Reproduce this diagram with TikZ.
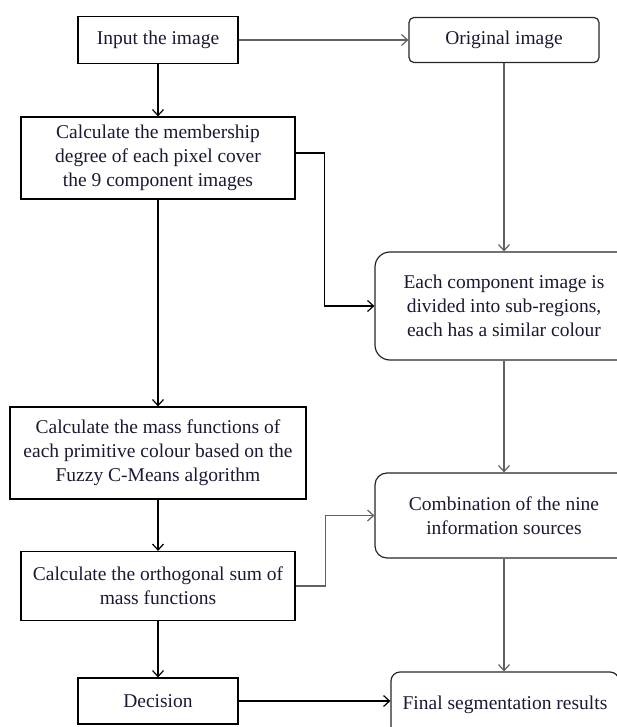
\documentclass[tikz,border=0pt]{standalone}
\usepackage{fontspec}
\setmainfont{Liberation Serif}
\usetikzlibrary{arrows.meta,calc,positioning}
\definecolor{linegray}{rgb}{0.38,0.38,0.38}
\definecolor{textnavy}{rgb}{0.10,0.10,0.20}
\tikzset{
  procbox/.style={
    draw=black,
    line width=1.2pt,
    align=center,
    inner sep=0pt,
    text=textnavy,
    font=\fontsize{19.5}{24}\selectfont
  },
  roundbox/.style={
    procbox,
    draw=black!85,
    rounded corners=8pt
  },
  arrow/.style={
    -{Straight Barb[length=6pt,width=11pt]},
    line width=1.2pt,
    black
  },
  grayarrow/.style={
    arrow,
    linegray
  }
}

\begin{document}
\begin{tikzpicture}[x=1pt,y=-1pt]
\useasboundingbox (0,0) rectangle (616,727);
% left column
\node[procbox, minimum width=160pt, minimum height=47pt] (input) at (158,40) {Input the image};
\node[procbox, minimum width=274pt, minimum height=82pt] (member) at (158,158) {Calculate the membership\\degree of each pixel cover\\the 9 component images};
\node[procbox, minimum width=296pt, minimum height=92pt] (mass) at (158,453) {Calculate the mass functions of\\each primitive colour based on the\\Fuzzy C-Means algorithm};
\node[procbox, minimum width=274pt, minimum height=69pt] (orth) at (158,586) {Calculate the orthogonal sum of\\mass functions};
\node[procbox, minimum width=160pt, minimum height=46pt] (decision) at (158,701) {Decision};
% right column
\node[roundbox, rounded corners=5pt, minimum width=190pt, minimum height=45pt] (orig) at (504,40) {Original image};
\node[roundbox, rounded corners=15pt, minimum width=258pt, minimum height=108pt] (comp) at (504,306) {Each component image is\\divided into sub-regions,\\each has a similar colour};
\node[roundbox, rounded corners=12pt, minimum width=258pt, minimum height=85pt] (comb) at (504,515.5) {Combination of the nine\\information sources};
\node[roundbox, rounded corners=9pt, minimum width=228pt, minimum height=66pt] (final) at (505,705) {Final segmentation results};
% connectors
\draw[arrow] (input) -- (member);
\draw[arrow] (member) -- (mass);
\draw[arrow] (mass) -- (orth);
\draw[arrow] (orth) -- (decision);
\draw[grayarrow] (input.east) -- (input.east -| orig.west);
\draw[grayarrow] (orig) -- (comp);
\draw[grayarrow] (comp) -- (comb);
\draw[grayarrow] (comb.south) -- (comb.south |- final.north);
\draw[arrow] ($(member.east)+(0,-5)$) -- ++(29,0) |- (comp.west);
\draw[grayarrow] (orth.east) -- ++(30,0) |- (comb.west);
\draw[arrow] (decision.east) -- (decision.east -| final.west);
\end{tikzpicture}
\end{document}
